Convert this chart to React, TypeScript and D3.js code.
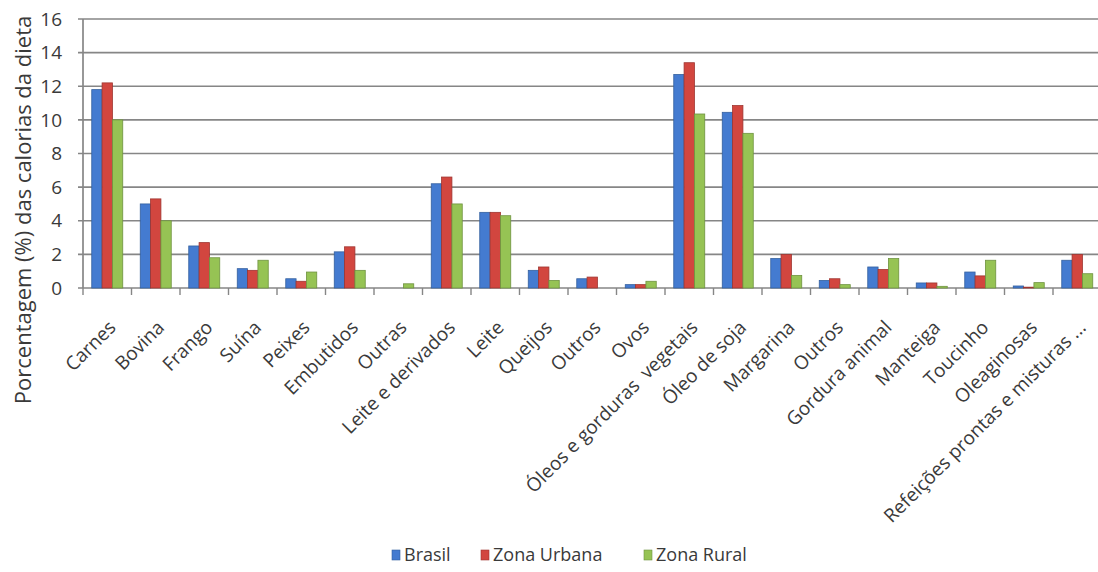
import React from "react";
import * as d3 from "d3";

// Food groups (x axis)
const categories = [
  "Carnes", "Bovina", "Frango", "Suína", "Peixes", "Embutidos", "Outras",
  "Leite e derivados", "Leite", "Queijos", "Outros", "Ovos",
  "Óleos e gorduras  vegetais", "Óleo de soja", "Margarina", "Outros",
  "Gordura animal", "Manteiga", "Toucinho", "Oleaginosas",
  "Refeições prontas e misturas ...",
];

// Share (%) of diet calories per series
const brasil = [11.8, 5.0, 2.5, 1.15, 0.55, 2.15, 0, 6.2, 4.5, 1.05, 0.55, 0.2, 12.7, 10.45, 1.75, 0.45, 1.25, 0.3, 0.95, 0.12, 1.65];
const urbana = [12.2, 5.3, 2.7, 1.05, 0.4, 2.45, 0, 6.6, 4.5, 1.25, 0.65, 0.2, 13.4, 10.85, 2.0, 0.55, 1.1, 0.3, 0.72, 0.05, 2.0];
const rural = [10.0, 4.0, 1.8, 1.65, 0.95, 1.05, 0.25, 5.0, 4.3, 0.45, 0.0, 0.4, 10.35, 9.2, 0.75, 0.2, 1.75, 0.1, 1.65, 0.32, 0.85];

const seriesNames = ["Brasil", "Zona Urbana", "Zona Rural"];
const seriesValues = [brasil, urbana, rural];
const fills = ["#447bd0", "#d2463f", "#96c354"];
const strokes = ["#34609f", "#9e3530", "#6f9340"];

const yTicks = [0, 2, 4, 6, 8, 10, 12, 14, 16];

const W = 1098;
const H = 572;
const FONT = "'Open Sans', 'DejaVu Sans', sans-serif";
const TEXT = "#3a3a3a";

export default function App() {
  const left = 83;
  const bandW = 48.5;
  const right = left + bandW * categories.length;
  const top = 19;
  const bottom = 288;

  const x0 = d3.scaleBand<number>().domain(d3.range(categories.length)).range([left, right]).padding(0);
  const gap = 8.75;
  const x1 = d3.scaleBand<number>().domain([0, 1, 2]).range([gap, x0.bandwidth() - gap]).padding(0);
  const y = d3.scaleLinear().domain([0, 16]).range([bottom, top]);

  const boundaries = d3.range(categories.length + 1).map((i) => left + i * x0.step());

  return (
    <svg
      width={W}
      height={H}
      style={{ position: "absolute", left: 0, top: 0, background: "#fff" }}
      fontFamily={FONT}
    >
      <rect x={0} y={0} width={W} height={H} fill="#fff" />

      {/* horizontal gridlines */}
      {yTicks.map((t) => (
        <g key={"g" + t}>
          <line x1={left - 5} x2={right} y1={y(t)} y2={y(t)} stroke="#868686" strokeWidth={1.7} />
          <text x={62} y={y(t)} dy="0.35em" textAnchor="end" fontSize={19} fill={TEXT}>
            {t}
          </text>
        </g>
      ))}

      {/* value axis line */}
      <line x1={left} x2={left} y1={top} y2={bottom} stroke="#868686" strokeWidth={1.7} />

      {/* category tick marks */}
      {boundaries.map((bx, i) => (
        <line key={"t" + i} x1={bx} x2={bx} y1={bottom} y2={bottom + 7} stroke="#868686" strokeWidth={1.4} />
      ))}

      {/* bars */}
      {categories.map((c, ci) => (
        <g key={"c" + ci} transform={`translate(${x0(ci)},0)`}>
          {seriesValues.map((vals, si) => {
            const v = vals[ci];
            if (v <= 0) return null;
            const h = y(0) - y(v);
            return (
              <rect
                key={si}
                x={x1(si)}
                y={y(v)}
                width={x1.bandwidth()}
                height={h}
                fill={fills[si]}
                stroke={strokes[si]}
                strokeWidth={0.8}
              />
            );
          })}
        </g>
      ))}

      {/* category labels */}
      {categories.map((c, ci) => {
        const cx = (x0(ci) as number) + x0.bandwidth() / 2;
        return (
          <text
            key={"l" + ci}
            transform={`translate(${cx + 5},${bottom + 36}) rotate(-45)`}
            textAnchor="end"
            dy="0.35em"
            fontSize={19}
            fill={TEXT}
            style={{ whiteSpace: "pre" }}
          >
            {c}
          </text>
        );
      })}

      {/* value axis title */}
      <text
        transform={`translate(23,210) rotate(-90)`}
        textAnchor="middle"
        dy="0.35em"
        fontSize={22}
        fill={TEXT}
      >
        Porcentagem (%) das calorias da dieta
      </text>

      {/* legend */}
      {(() => {
        const xs = [392, 481, 644];
        return seriesNames.map((n, i) => (
          <g key={"lg" + i} transform={`translate(${xs[i]},555)`}>
            <rect x={0} y={-5} width={8} height={10} fill={fills[i]} stroke={strokes[i]} strokeWidth={0.6} />
            <text x={12} y={0} dy="0.35em" fontSize={18} fill={TEXT}>
              {n}
            </text>
          </g>
        ));
      })()}
    </svg>
  );
}
